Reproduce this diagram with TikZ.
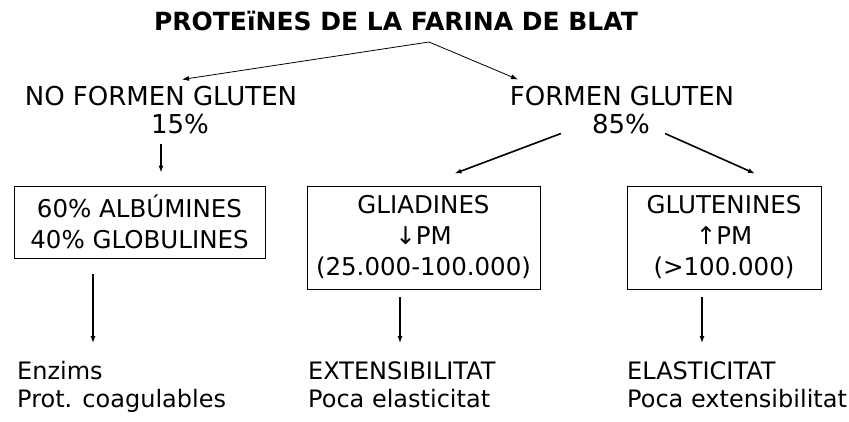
\documentclass[tikz,border=0pt]{standalone}
\usepackage{fontspec}
\setmainfont{DejaVu Sans}
\usetikzlibrary{arrows.meta,calc}

\begin{document}
\begin{tikzpicture}[x=1pt, y=-1pt, >={Latex[length=7pt,width=5pt]}]
    \tikzset{txt/.style={inner sep=0pt, font=\fontsize{24}{28}\selectfont}}
    \tikzset{caixa/.style={draw, line width=0.9pt, inner sep=0pt, align=center, font=\fontsize{24.5}{31}\selectfont}}
    \useasboundingbox (0,0) rectangle (849,421);
    \node[txt, anchor=base, font=\fontsize{25}{28}\selectfont\bfseries] (titol) at (396,30) {PROTEïNES DE LA FARINA DE BLAT};
    \coordinate (parteix) at (429,42);
    \node[txt, anchor=base, font=\fontsize{26}{28}\selectfont] (nof) at (161,105) {NO FORMEN GLUTEN};
    \node[txt, anchor=base, font=\fontsize{26}{28}\selectfont] (nofpct) at (180,133) {15\%};
    \node[txt, anchor=base, font=\fontsize{26}{28}\selectfont] (for) at (622,105) {FORMEN GLUTEN};
    \node[txt, anchor=base, font=\fontsize{26}{28}\selectfont] (forpct) at (621,133) {85\%};
    \node[caixa, minimum width=251pt, minimum height=72pt] (albu) at (139.5,222)
        {60\% ALBÚMINES\\40\% GLOBULINES};
    \node[caixa, minimum width=233pt, minimum height=103pt] (glia) at (423.5,237.5)
        {GLIADINES\\↓PM\\(25.000-100.000)};
    \node[caixa, minimum width=194pt, minimum height=103pt] (glut) at (724,237.5)
        {GLUTENINES\\↑PM\\(>100.000)};
    \node[txt, anchor=north west, align=left] (enz) at (17,361) {Enzims\\Prot. coagulables};
    \node[txt, anchor=north west, align=left] (ext) at (308,361) {EXTENSIBILITAT\\Poca elasticitat};
    \node[txt, anchor=north west, align=left] (ela) at (627,361) {ELASTICITAT\\Poca extensibilitat};
    % del titol a les dues branques
    \draw[->, line width=0.8pt] (parteix) -- ($(nof.north)+(21,-6)$);
    \draw[->, line width=0.8pt] (parteix) -- ($(for.north)+(-104,-6)$);
    \draw[->, line width=1.2pt] ($(nof.south)+(0,38)$) -- ($(nof.south |- albu.north)+(0,-13)$);
    \draw[->, line width=1.6pt] ($(forpct.west)+(-31,10)$) -- ($(glia.north)+(31,-12)$);
    \draw[->, line width=1.6pt] ($(forpct.east)+(15,10)$) -- ($(glut.north)+(31,-12)$);
    % cap a les propietats
    \draw[->, line width=1.2pt] ($(albu.south)+(-46.5,16)$) -- ($(enz.north west)+(76,-18)$);
    \draw[->, line width=1.2pt] ($(glia.south)+(-23.5,8)$) -- ($(ext.north west)+(92,-18)$);
    \draw[->, line width=1.2pt] ($(glut.south)+(-22,8)$) -- ($(ela.north west)+(75,-18)$);
\end{tikzpicture}
\end{document}
